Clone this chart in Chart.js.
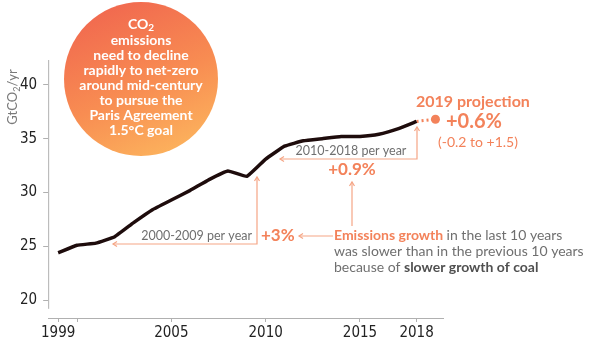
<!DOCTYPE html>
<html>
<head>
<meta charset="utf-8">
<script src="https://cdn.jsdelivr.net/npm/chart.js@4"></script>
<style>
  html, body { margin: 0; padding: 0; background: #fff; }
  #wrap { width: 590px; height: 344px; }
</style>
</head>
<body>
<div id="wrap"><canvas id="myChart" width="590" height="344"></canvas></div>
<script>
// data (GtCO2 per year)
const years = [1999, 2000, 2001, 2002, 2003, 2004, 2005, 2006, 2007, 2008, 2009,
  2010, 2011, 2012, 2013, 2014, 2015, 2016, 2017, 2018];
const emissions = [24.4, 25.1, 25.3, 25.9, 27.2, 28.4, 29.3, 30.2, 31.2, 32.0, 31.5,
  33.1, 34.3, 34.8, 35.0, 35.2, 35.2, 35.4, 35.9, 36.6];
const projectionYears = [2018, 2019];
const projectionValues = [36.6, 36.8];
const yTicks = [20, 25, 30, 35, 40];
const xTicks = [1999, 2000, 2005, 2010, 2015, 2018];
const xTickLabels = ["1999", "", "2005", "2010", "2015", "2018"];

const ORANGE = "#f3825a";
const ARROW = "#f5a585";
const GREY = "#6f6f6f";
const SANS = "Lato, 'Open Sans', sans-serif";
const NARROW = "'Liberation Sans Narrow', 'DejaVu Sans Condensed', sans-serif";

function arrowHead(ctx, x, y, dir) {
  // dir: "left" or "up"
  ctx.beginPath();
  if (dir == "left") {
    ctx.moveTo(x + 4, y - 2.5);
    ctx.lineTo(x, y);
    ctx.lineTo(x + 4, y + 2.5);
  } else {
    ctx.moveTo(x - 2.5, y + 4);
    ctx.lineTo(x, y);
    ctx.lineTo(x + 2.5, y + 4);
  }
  ctx.stroke();
}

function polyline(ctx, pts) {
  ctx.beginPath();
  ctx.moveTo(pts[0][0], pts[0][1]);
  for (let i = 1; i < pts.length; i++) ctx.lineTo(pts[i][0], pts[i][1]);
  ctx.stroke();
}

// text with a subscript "2" after a prefix
function subText(ctx, pre, sub, post, x, y, size, align) {
  const w1 = ctx.measureText(pre).width;
  const font = ctx.font;
  ctx.font = font.replace(/\d+(\.\d+)?px/, Math.round(size * 0.68) + "px");
  const w2 = ctx.measureText(sub).width;
  ctx.font = font;
  const w3 = ctx.measureText(post).width;
  let start = x;
  if (align == "center") start = x - (w1 + w2 + w3) / 2;
  ctx.textAlign = "left";
  ctx.fillText(pre, start, y);
  ctx.font = font.replace(/\d+(\.\d+)?px/, Math.round(size * 0.68) + "px");
  ctx.fillText(sub, start + w1, y + size * 0.28);
  ctx.font = font;
  ctx.fillText(post, start + w1 + w2, y);
}

const annotations = {
  id: "annotations",
  beforeDatasetsDraw(chart) {
    const ctx = chart.ctx;
    const x = chart.scales.x;
    const y = chart.scales.y;
    ctx.save();
    // y axis line (stops short of the x axis)
    ctx.strokeStyle = "#b0b0b0";
    ctx.lineWidth = 1;
    polyline(ctx, [[x.left + 0.5, chart.chartArea.top], [x.left + 0.5, y.getPixelForValue(19.2)]]);

    // big orange circle
    const g = ctx.createLinearGradient(110, 5, 175, 155);
    g.addColorStop(0, "#f1694f");
    g.addColorStop(0.55, "#f88d52");
    g.addColorStop(1, "#fcb35d");
    ctx.fillStyle = g;
    ctx.beginPath();
    ctx.arc(141, 79, 77, 0, Math.PI * 2);
    ctx.fill();

    ctx.fillStyle = "#fff";
    ctx.font = "bold 14px " + SANS;
    ctx.textBaseline = "middle";
    subText(ctx, "CO", "2", "", 141, 24, 14, "center");
    const lines = ["emissions", "need to decline", "rapidly to net-zero",
      "around mid-century", "to pursue the", "Paris Agreement", "1.5\u00B0C goal"];
    ctx.textAlign = "center";
    lines.forEach((t, i) => ctx.fillText(t, 141, 40 + i * 15));

    // y axis title
    ctx.save();
    ctx.translate(13, 97);
    ctx.rotate(-Math.PI / 2);
    ctx.fillStyle = "#7a7a7a";
    ctx.font = "13px " + SANS;
    ctx.textBaseline = "middle";
    subText(ctx, "GtCO", "2", "/yr", 0, 0, 13, "center");
    ctx.restore();
    ctx.restore();
  },
  afterDatasetsDraw(chart) {
    const ctx = chart.ctx;
    ctx.save();
    ctx.strokeStyle = ARROW;
    ctx.lineWidth = 1.2;
    ctx.textBaseline = "middle";

    // 2000-2009 bracket
    polyline(ctx, [[257, 177], [257, 244], [113, 244]]);
    arrowHead(ctx, 113, 244, "left");
    arrowHead(ctx, 257, 177, "up");
    // 2010-2018 bracket
    polyline(ctx, [[417, 127], [417, 159], [280, 159]]);
    arrowHead(ctx, 280, 159, "left");
    arrowHead(ctx, 417, 127, "up");
    // arrows from the note
    polyline(ctx, [[333, 236], [299, 236]]);
    arrowHead(ctx, 299, 236, "left");
    polyline(ctx, [[352, 226], [352, 182]]);
    arrowHead(ctx, 352, 182, "up");

    ctx.fillStyle = GREY;
    ctx.font = "12.5px " + SANS;
    ctx.textAlign = "right";
    ctx.fillText("2000-2009 per year", 252, 236);
    ctx.textAlign = "center";
    ctx.fillText("2010-2018 per year", 351, 151);

    ctx.fillStyle = ORANGE;
    ctx.font = "bold 17px " + SANS;
    ctx.textAlign = "left";
    ctx.fillText("+3%", 261, 236);
    ctx.textAlign = "center";
    ctx.fillText("+0.9%", 352, 170);

    // 2019 projection
    ctx.textAlign = "left";
    ctx.font = "bold 16px " + SANS;
    ctx.fillText("2019 projection", 416, 102);
    ctx.font = "bold 20px " + SANS;
    ctx.fillText("+0.6%", 446, 122);
    ctx.font = "14px " + SANS;
    ctx.fillText("(-0.2 to +1.5)", 438, 142);

    // note
    let x0 = 334;
    ctx.font = "bold 14px " + SANS;
    ctx.fillStyle = ORANGE;
    ctx.fillText("Emissions growth", x0, 235);
    let w = ctx.measureText("Emissions growth ").width;
    ctx.font = "14px " + SANS;
    ctx.fillStyle = GREY;
    ctx.fillText("in the last 10 years", x0 + w, 235);
    ctx.fillText("was slower than in the previous 10 years", x0, 251);
    ctx.fillText("because of", x0, 267);
    w = ctx.measureText("because of ").width;
    ctx.font = "bold 14px " + SANS;
    ctx.fillStyle = "#505050";
    ctx.fillText("slower growth of coal", x0 + w, 267);
    ctx.restore();
  }
};

const ctx = document.getElementById("myChart").getContext("2d");
const chart = new Chart(ctx, {
  type: "line",
  data: {
    datasets: [
      {
        label: "Emissions",
        data: years.map((yr, i) => ({ x: yr, y: emissions[i] })),
        borderColor: "#1e0c0c",
        borderWidth: 3.5,
        pointRadius: 0,
        tension: 0.1,
        borderJoinStyle: "round",
      },
      {
        label: "2019 projection",
        data: projectionYears.map((yr, i) => ({ x: yr, y: projectionValues[i] })),
        borderColor: ORANGE,
        borderWidth: 3,
        borderDash: [2, 3],
        pointRadius: [0, 4.5],
        pointBackgroundColor: ORANGE,
        pointBorderWidth: 0,
      },
    ],
  },
  options: {
    responsive: false,
    animation: false,
    layout: { padding: { left: 14, right: 147, top: 60, bottom: 0 } },
    plugins: { legend: { display: false }, tooltip: { enabled: false } },
    scales: {
      x: {
        type: "linear",
        min: 1998.47,
        max: 2019.4,
        afterBuildTicks: (scale) => {
          scale.ticks = xTicks.map((v) => ({ value: v }));
        },
        ticks: {
          autoSkip: false,
          maxRotation: 0,
          padding: 2,
          color: "#222",
          font: { family: NARROW, size: 15 },
          callback: (v) => xTickLabels[xTicks.indexOf(v)],
        },
        grid: { drawOnChartArea: false, tickLength: 4, color: "#b0b0b0" },
        border: { color: "#b0b0b0" },
      },
      y: {
        min: 18.35,
        max: 42.3,
        afterBuildTicks: (scale) => {
          scale.ticks = yTicks.map((v) => ({ value: v }));
        },
        ticks: {
          padding: 6,
          color: "#222",
          font: { family: NARROW, size: 15 },
        },
        grid: { drawOnChartArea: false, tickLength: 5, color: "#b0b0b0" },
        border: { display: false },
      },
    },
  },
  plugins: [annotations],
});
</script>
</body>
</html>
